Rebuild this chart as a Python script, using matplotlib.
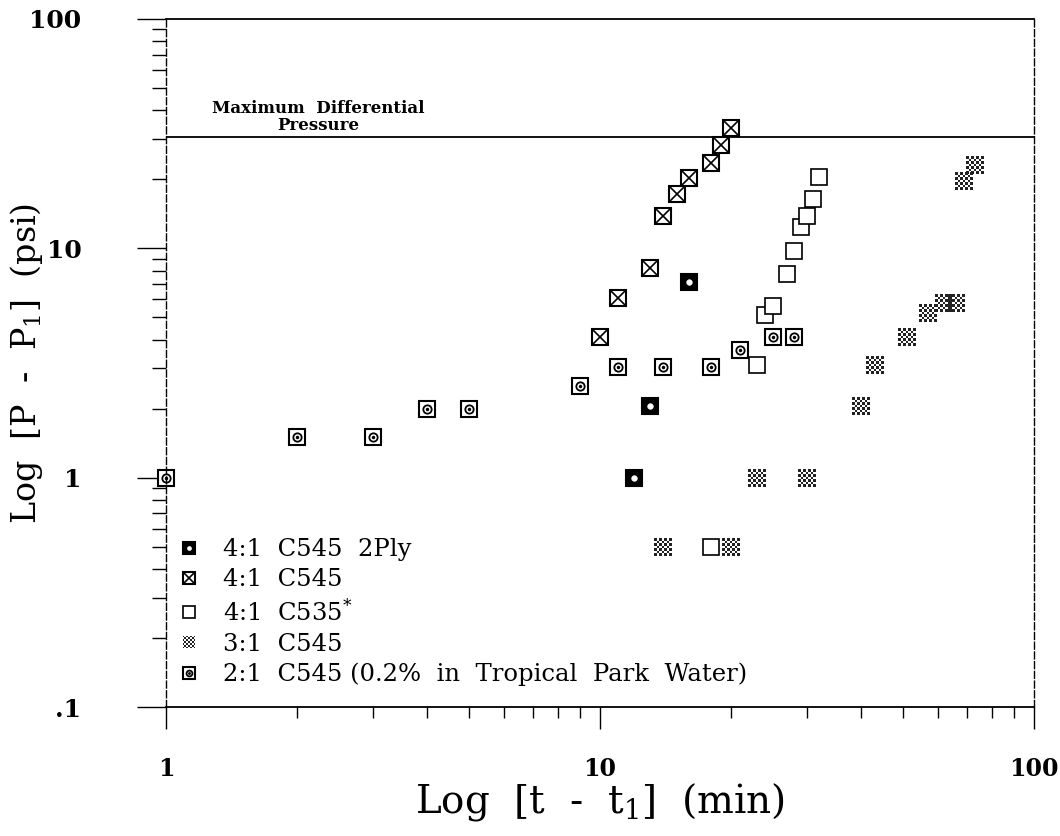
import matplotlib
matplotlib.use("Agg")
import matplotlib.pyplot as plt
from matplotlib.path import Path
from matplotlib.legend_handler import HandlerTuple
from matplotlib.ticker import FixedLocator, LogLocator, NullFormatter

plt.rcParams['font.family'] = 'DejaVu Serif'
plt.rcParams['mathtext.default'] = 'regular'

# 4:1 C545 2Ply
ply2_t = [12, 13, 16]
ply2_p = [1.0, 2.05, 7.1]
# 4:1 C545
c545_t = [10, 11, 13, 14, 15, 16, 18, 19, 20]
c545_p = [4.1, 6.1, 8.2, 13.8, 17.3, 20.3, 23.5, 28.2, 33.5]
# 4:1 C535*
c535_t = [18, 23, 24, 25, 27, 28, 29, 30, 31, 32]
c535_p = [0.5, 3.1, 5.1, 5.6, 7.7, 9.7, 12.4, 13.9, 16.4, 20.5]
# 3:1 C545
r31_t = [14, 20, 23, 30, 40, 43, 51, 57, 62, 66, 69, 73]
r31_p = [0.5, 0.5, 1.0, 1.0, 2.06, 3.1, 4.1, 5.2, 5.8, 5.8, 19.7, 23.1]
# 2:1 C545 (0.2% in Tropical Park Water)
trop_t = [1, 2, 3, 4, 5, 9, 11, 14, 18, 21, 25, 28]
trop_p = [1.0, 1.5, 1.5, 2.0, 2.0, 2.5, 3.05, 3.05, 3.05, 3.6, 4.1, 4.1]

max_dp = 30.5
labels = ["4:1  C545  2Ply", "4:1  C545", "4:1  C535$^{*}$", "3:1  C545",
          "2:1  C545 (0.2%  in  Tropical  Park  Water)"]


def checker_marker(n=7):
    # checkerboard square used for the 3:1 series
    verts, codes = [], []
    for i in range(n):
        for j in range(n):
            if (i + j) % 2:
                continue
            x0, y0 = -0.5 + i / n, -0.5 + j / n
            x1, y1 = x0 + 1.0 / n, y0 + 1.0 / n
            verts += [(x0, y0), (x1, y0), (x1, y1), (x0, y1), (x0, y0)]
            codes += [Path.MOVETO, Path.LINETO, Path.LINETO, Path.LINETO, Path.CLOSEPOLY]
    return Path(verts, codes)


fig = plt.figure(figsize=(10.6, 8.36), dpi=100)
ax = fig.add_axes([0.1566, 0.1543, 0.819, 0.823])
ax.set_xscale('log')
ax.set_yscale('log')
ax.set_xlim(1, 100)
ax.set_ylim(0.1, 100)

ms = 12
mew = 1.5
kw = dict(linestyle='none', clip_on=False)

h1a, = ax.plot(ply2_t, ply2_p, marker='s', ms=ms, mfc='black', mec='black', mew=mew, **kw)
h1b, = ax.plot(ply2_t, ply2_p, marker='o', ms=4, mfc='white', mec='white', mew=0.5, **kw)

h2a, = ax.plot(c545_t, c545_p, marker='s', ms=ms, mfc='white', mec='black', mew=mew, **kw)
h2b, = ax.plot(c545_t, c545_p, marker='x', ms=ms, mec='black', mew=1.2, **kw)

h3, = ax.plot(c535_t, c535_p, marker='s', ms=ms, mfc='white', mec='black', mew=1.2, **kw)

h4, = ax.plot(r31_t, r31_p, marker=checker_marker(), ms=ms + 1, mfc='#222222', mec='none', mew=0, **kw)

h5a, = ax.plot(trop_t, trop_p, marker='s', ms=ms, mfc='white', mec='black', mew=mew, **kw)
h5b, = ax.plot(trop_t, trop_p, marker='o', ms=6, mfc='white', mec='black', mew=1.3, **kw)
h5c, = ax.plot(trop_t, trop_p, marker='o', ms=1.5, mfc='black', mec='black', **kw)

ax.axhline(max_dp, color='black', lw=1.3)
ax.text(2.24, 37.5, "Maximum  Differential\nPressure", ha='center', va='center',
        fontsize=12, fontweight='bold', linespacing=1.0)

# spines
ax.spines['top'].set_linewidth(1.3)
ax.spines['bottom'].set_linewidth(1.3)
for side in ['left', 'right']:
    ax.spines[side].set_linestyle((0, (5, 2)))
    ax.spines[side].set_linewidth(1.0)

# ticks
ax.xaxis.set_major_locator(FixedLocator([1, 10, 100]))
ax.xaxis.set_minor_locator(LogLocator(base=10, subs=range(2, 10)))
ax.xaxis.set_minor_formatter(NullFormatter())
ax.set_xticklabels(['1', '10', '100'])
ax.yaxis.set_major_locator(FixedLocator([0.1, 1, 10, 100]))
ax.yaxis.set_minor_locator(LogLocator(base=10, subs=range(2, 10)))
ax.yaxis.set_minor_formatter(NullFormatter())
ax.set_yticklabels(['.1', '1', '10', '100'])

ax.tick_params(axis='x', which='major', direction='out', length=16, width=1.0,
               pad=20, labelsize=17)
ax.tick_params(axis='x', which='minor', direction='out', length=8, width=1.0)
ax.tick_params(axis='y', which='major', direction='out', length=21, width=1.0,
               pad=40, labelsize=18)
ax.tick_params(axis='y', which='minor', direction='out', length=10, width=1.0)
for lab in ax.get_xticklabels() + ax.get_yticklabels():
    lab.set_fontweight('bold')

ax.set_xlabel("Log  [t  -  t$_1$]  (min)", fontsize=28, labelpad=0)
ax.set_ylabel("Log  [P  -  P$_1$]  (psi)", fontsize=24)
ax.yaxis.set_label_coords(-0.139, 0.5)

handles = [(h1a, h1b), (h2a, h2b), h3, h4, (h5a, h5b, h5c)]
leg = ax.legend(handles, labels, loc='lower left', bbox_to_anchor=(0.012, 0.03),
                frameon=False, fontsize=17.5, markerscale=0.7, handlelength=1.0,
                handletextpad=0.9, labelspacing=0.3, borderpad=0, borderaxespad=0,
                handler_map={tuple: HandlerTuple(ndivide=1)})

fig.savefig('out.png', dpi=100)
